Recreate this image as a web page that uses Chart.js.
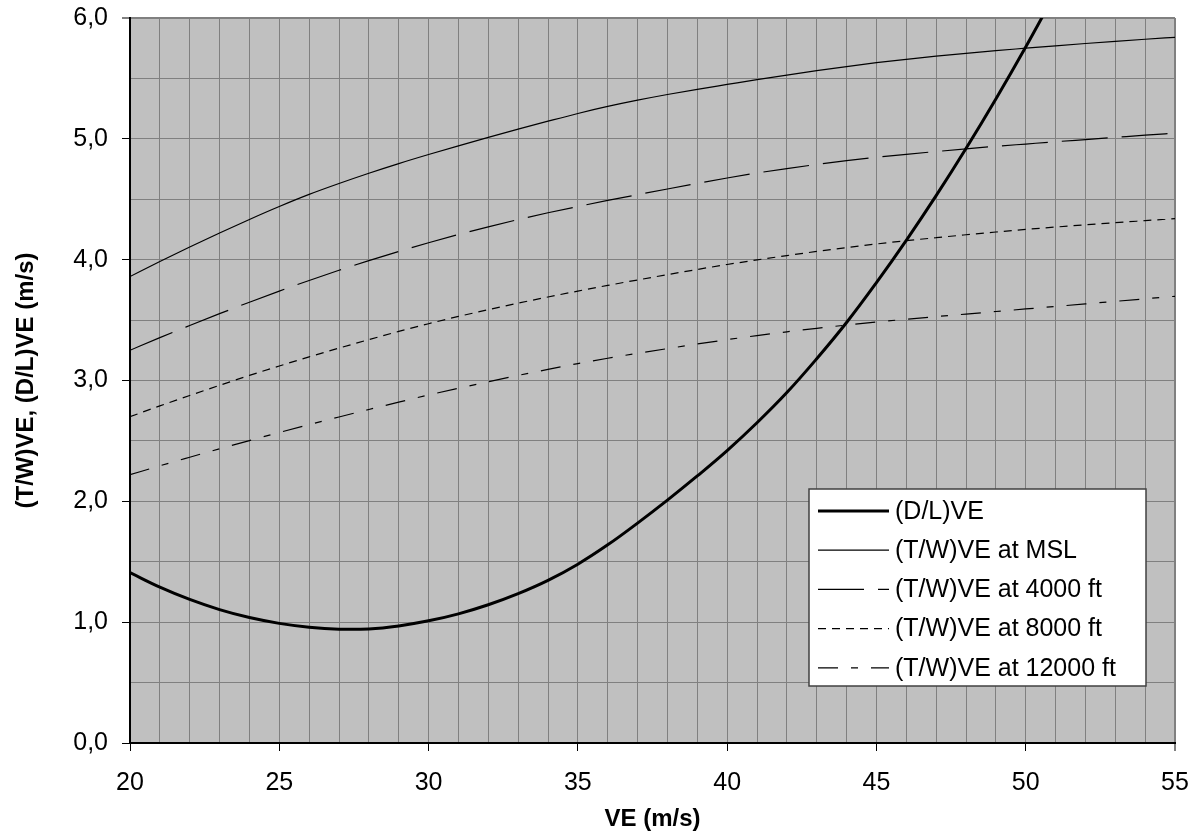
<!DOCTYPE html>
<html>
<head>
<meta charset="utf-8">
<title>VE</title>
<script src="https://cdn.jsdelivr.net/npm/chart.js@4/dist/chart.umd.min.js"></script>
<style>
    body { margin: 0; background: #fff; }
    #wrap { width: 1197px; height: 832px; }
</style>
</head>
<body>
<div id="wrap"><canvas id="ve-chart"></canvas></div>
<script>
// velocidades (m/s)
const ve = [20, 21, 22, 23, 24, 25, 26, 27, 28, 29, 30, 31, 32, 33, 34, 35, 36, 37,
    38, 39, 40, 41, 42, 43, 44, 45, 46, 47, 48, 49, 50, 51, 52, 53, 54, 55];

// (D/L)VE, sale por arriba del eje a partir de 51
const dragLift = [1.41, 1.29, 1.188, 1.104, 1.038, 0.99, 0.958, 0.942, 0.944, 0.969, 1.011,
    1.069, 1.144, 1.236, 1.346, 1.48, 1.64, 1.82, 2.01, 2.21, 2.42, 2.65, 2.90, 3.18, 3.48,
    3.81, 4.16, 4.53, 4.92, 5.33, 5.76, 6.21];

// (T/W)VE a distintas altitudes
const thrustMsl = [3.86, 3.985, 4.105, 4.221, 4.333, 4.44, 4.54, 4.63, 4.715, 4.795, 4.87,
    4.942, 5.012, 5.08, 5.146, 5.21, 5.268, 5.32, 5.367, 5.41, 5.45, 5.49, 5.528, 5.564,
    5.598, 5.63, 5.658, 5.684, 5.708, 5.73, 5.75, 5.77, 5.789, 5.807, 5.824, 5.84];
const thrust4000 = [3.25, 3.355, 3.455, 3.553, 3.648, 3.74, 3.828, 3.912, 3.992, 4.068, 4.14,
    4.208, 4.272, 4.332, 4.388, 4.44, 4.49, 4.538, 4.585, 4.631, 4.676, 4.717, 4.754, 4.788,
    4.819, 4.847, 4.872, 4.895, 4.917, 4.938, 4.957, 4.976, 4.994, 5.012, 5.03, 5.047];
const thrust8000 = [2.70, 2.79, 2.876, 2.96, 3.042, 3.12, 3.196, 3.268, 3.338, 3.406, 3.47,
    3.53, 3.586, 3.64, 3.691, 3.74, 3.787, 3.832, 3.876, 3.919, 3.96, 3.998, 4.034, 4.068,
    4.10, 4.13, 4.157, 4.182, 4.206, 4.229, 4.25, 4.27, 4.288, 4.306, 4.323, 4.34];
const thrust12000 = [2.22, 2.294, 2.365, 2.435, 2.503, 2.57, 2.635, 2.698, 2.76, 2.821, 2.88,
    2.936, 2.99, 3.042, 3.092, 3.14, 3.184, 3.225, 3.264, 3.302, 3.338, 3.372, 3.403, 3.432,
    3.459, 3.484, 3.507, 3.529, 3.55, 3.571, 3.592, 3.613, 3.634, 3.655, 3.676, 3.697];

const seriesLabels = ['(D/L)VE', '(T/W)VE at MSL', '(T/W)VE at 4000 ft',
    '(T/W)VE at 8000 ft', '(T/W)VE at 12000 ft'];

const xTitle = 'VE (m/s)';
const yTitle = '(T/W)VE, (D/L)VE (m/s)';

const FONT = "'Liberation Sans', Arial, sans-serif";

// pasa un array de valores a puntos {x, y}
function toPoints(values) {
    return values.map((v, i) => ({ x: ve[i], y: v }));
}

// dibuja la leyenda dentro del area del grafico, con su recuadro blanco
const legendBox = {
    id: 'legendBox',
    afterDraw(chart, args, opts) {
        const ctx = chart.ctx;
        ctx.save();
        ctx.fillStyle = '#fff';
        ctx.fillRect(opts.left, opts.top, opts.width, opts.height);
        ctx.strokeStyle = '#404040';
        ctx.lineWidth = 1.5;
        ctx.strokeRect(opts.left, opts.top, opts.width, opts.height);

        chart.data.datasets.forEach((ds, i) => {
            const y = opts.top + opts.firstRow + i * opts.rowGap;
            ctx.beginPath();
            ctx.setLineDash(ds.borderDash || []);
            ctx.lineWidth = ds.borderWidth;
            ctx.strokeStyle = ds.borderColor;
            ctx.moveTo(opts.left + opts.sampleStart, y);
            ctx.lineTo(opts.left + opts.sampleEnd, y);
            ctx.stroke();
            ctx.setLineDash([]);

            ctx.fillStyle = '#000';
            ctx.font = `25px ${FONT}`;
            ctx.textBaseline = 'middle';
            ctx.fillText(ds.label, opts.left + opts.textStart, y + 1);
        });
        ctx.restore();
    }
};

// fondo gris del area de trazado
const plotBackground = {
    id: 'plotBackground',
    beforeDraw(chart) {
        const { ctx, chartArea } = chart;
        ctx.save();
        ctx.fillStyle = '#c0c0c0';
        ctx.fillRect(chartArea.left, chartArea.top, chartArea.width, chartArea.height);
        ctx.restore();
    }
};

const isInt = v => Math.abs(v - Math.round(v)) < 1e-9;

new Chart(document.getElementById('ve-chart'), {
    type: 'line',
    data: {
        datasets: [
            {
                label: seriesLabels[0],
                data: toPoints(dragLift),
                borderColor: '#000',
                borderWidth: 3,
                // curva suave tambien en el minimo
                cubicInterpolationMode: 'default',
                tension: 0.4,
            },
            {
                label: seriesLabels[1],
                data: toPoints(thrustMsl),
                borderColor: '#000',
                borderWidth: 1.2,
            },
            {
                label: seriesLabels[2],
                data: toPoints(thrust4000),
                borderColor: '#000',
                borderWidth: 1.2,
                borderDash: [46, 14],
            },
            {
                label: seriesLabels[3],
                data: toPoints(thrust8000),
                borderColor: '#000',
                borderWidth: 1.2,
                borderDash: [8, 6],
            },
            {
                label: seriesLabels[4],
                data: toPoints(thrust12000),
                borderColor: '#000',
                borderWidth: 1.2,
                borderDash: [20, 13, 7, 13],
            }
        ]
    },
    options: {
        responsive: true,
        maintainAspectRatio: false,
        animation: false,
        layout: {
            padding: { top: 18, right: 22, left: 0, bottom: 0 }
        },
        elements: {
            point: { radius: 0 },
            line: { cubicInterpolationMode: 'monotone', fill: false }
        },
        datasets: {
            line: { clip: 0 }
        },
        plugins: {
            legend: { display: false },
            tooltip: { enabled: false },
            legendBox: {
                left: 809, top: 489, width: 337, height: 197,
                firstRow: 22, rowGap: 39.2,
                sampleStart: 9, sampleEnd: 80, textStart: 86
            }
        },
        scales: {
            x: {
                type: 'linear',
                min: 20,
                max: 55,
                ticks: {
                    stepSize: 1,
                    autoSkip: false,
                    maxRotation: 0,
                    padding: 17,
                    color: '#000',
                    font: { family: FONT, size: 25 },
                    callback: v => (v % 5 === 0 ? String(v) : '')
                },
                grid: {
                    color: '#808080',
                    lineWidth: c => (c.tick && c.tick.value === 55 ? 2 : 1),
                    tickColor: c => (c.tick && c.tick.value % 5 === 0 ? '#000' : 'rgba(0,0,0,0)'),
                    tickLength: 8,
                    tickWidth: 1
                },
                border: { color: '#000', width: 2 },
                title: {
                    display: true,
                    text: xTitle,
                    color: '#000',
                    font: { family: FONT, size: 24, weight: 'bold' },
                    padding: { top: 0, bottom: -2 }
                },
                // alto fijo y sin margen extra por las etiquetas de los extremos
                afterFit: scale => {
                    scale.height = 89;
                    scale.paddingLeft = 0;
                    scale.paddingRight = 0;
                }
            },
            y: {
                type: 'linear',
                min: 0,
                max: 6,
                ticks: {
                    stepSize: 0.5,
                    padding: 14,
                    color: '#000',
                    font: { family: FONT, size: 25 },
                    callback: v => (isInt(v) ? v.toFixed(1).replace('.', ',') : '')
                },
                grid: {
                    color: '#808080',
                    lineWidth: c => (c.tick && c.tick.value === 6 ? 2 : 1),
                    tickColor: c => (c.tick && isInt(c.tick.value) ? '#000' : 'rgba(0,0,0,0)'),
                    tickLength: 8,
                    tickWidth: 1
                },
                border: { color: '#000', width: 2 },
                title: {
                    display: true,
                    text: yTitle,
                    color: '#000',
                    font: { family: FONT, size: 24, weight: 'bold' },
                    padding: { top: 12, bottom: 0 }
                },
                afterFit: scale => {
                    scale.width = 130;
                    scale.paddingTop = 0;
                    scale.paddingBottom = 0;
                }
            }
        }
    },
    plugins: [plotBackground, legendBox]
});
</script>
</body>
</html>
